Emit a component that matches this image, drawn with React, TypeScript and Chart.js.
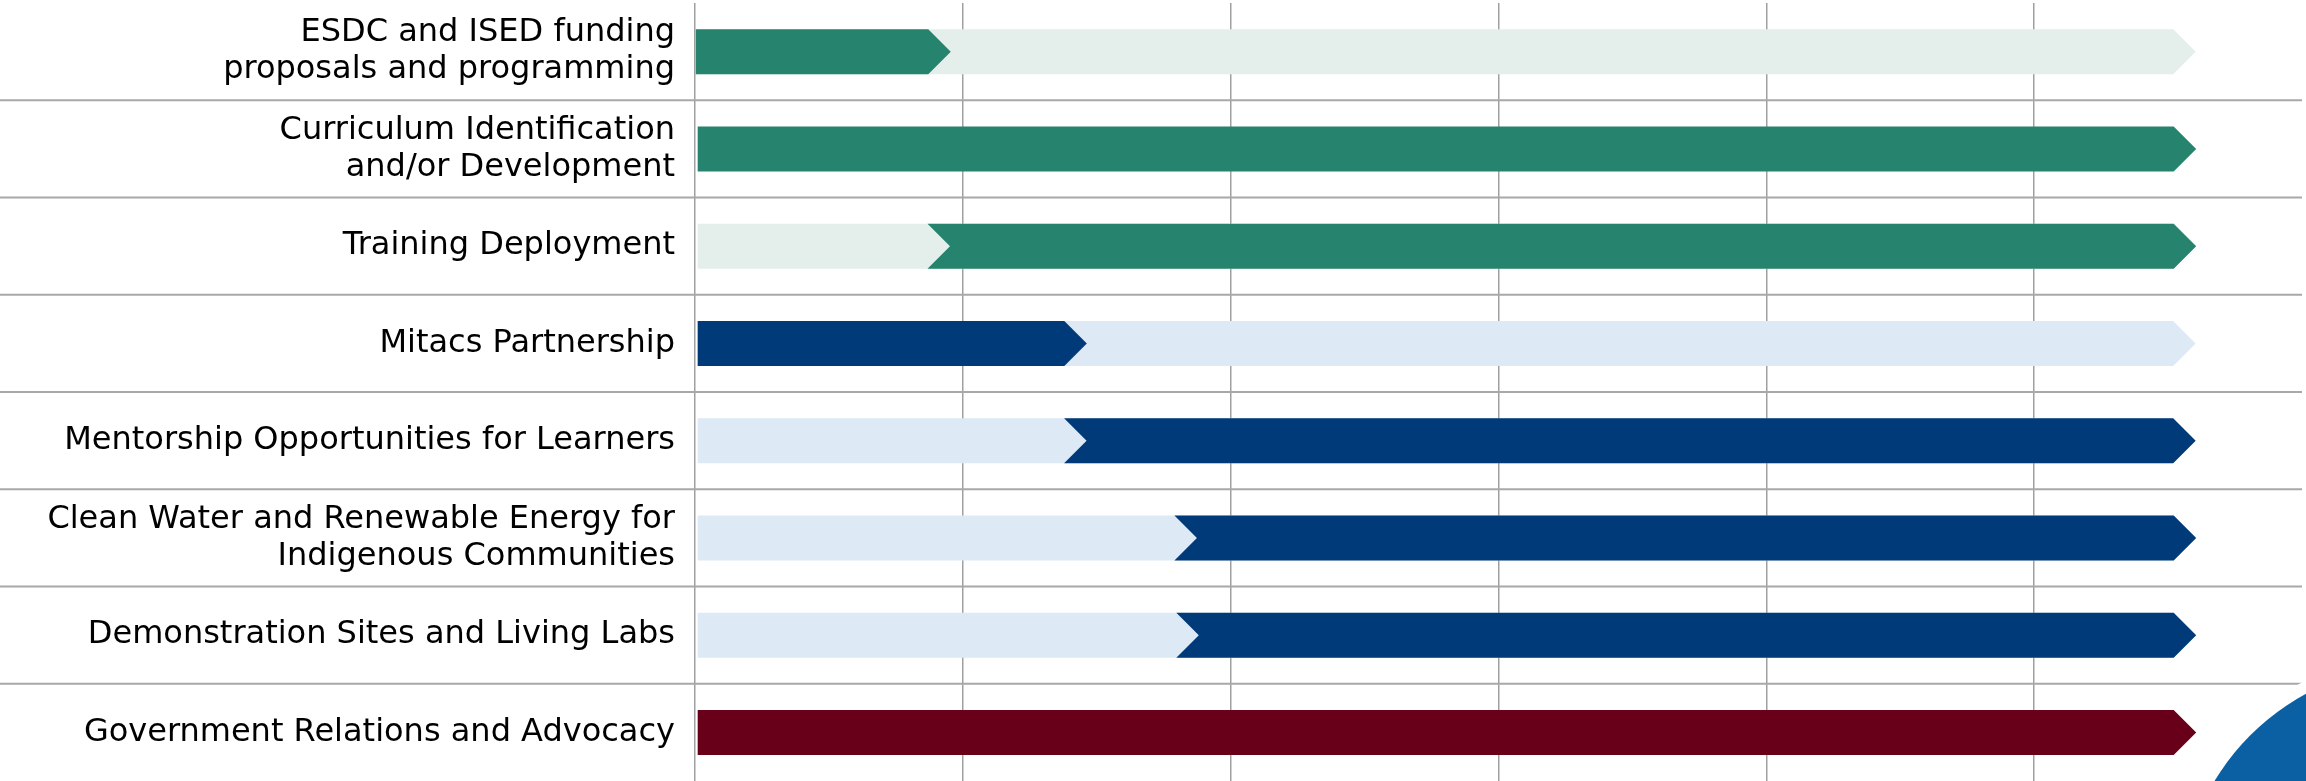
import React, { useEffect, useRef } from "react";
import { Chart, registerables } from "chart.js";

Chart.register(...registerables);

const categories: (string | string[])[] = [
  ["ESDC and ISED funding", "proposals and programming"],
  ["Curriculum Identification", "and/or Development"],
  "Training Deployment",
  "Mitacs Partnership",
  "Mentorship Opportunities for Learners",
  ["Clean Water and Renewable Energy for", "Indigenous Communities"],
  "Demonstration Sites and Living Labs",
  "Government Relations and Advocacy",
];

// light (background / remaining) segments
const lightStart: (number | null)[] = [0, null, 0.01, 0.01, 0.01, 0.01, 0.01, null];
const lightEnd: (number | null)[] = [5.603, null, 5.603, 5.603, 5.603, 5.603, 5.603, null];

// dark (active) segments
const darkStart: number[] = [0, 0.01, 0.952, 0.01, 1.462, 1.874, 1.881, 0.01];
const darkEnd: number[] = [0.955, 5.605, 5.605, 1.463, 5.603, 5.605, 5.605, 5.605];

const darkColors = ["#25836E", "#25836E", "#25836E", "#003A78", "#003A78", "#003A78", "#003A78", "#680019"];
const lightColors = ["#E4EFEB", "#E4EFEB", "#E4EFEB", "#DDE9F5", "#DDE9F5", "#DDE9F5", "#DDE9F5", "#F0DDE0"];

const xMin = 0;
const xMax = 6;

const chevronPlugin = {
  id: "chevronBars",
  beforeDatasetDraw(chart: any, args: any) {
    const ctx = chart.ctx;
    const meta = args.meta;
    const ds = chart.data.datasets[args.index];
    ctx.save();
    meta.data.forEach((el: any, i: number) => {
      const v = ds.data[i];
      if (v == null) return;
      const p = el.getProps(["x", "y", "base", "height"], true);
      const left = Math.min(p.x, p.base);
      const right = Math.max(p.x, p.base);
      const top = p.y - p.height / 2;
      const bottom = p.y + p.height / 2;
      const d = p.height / 2;
      const notched = v[0] > 0.05;
      ctx.beginPath();
      if (notched) {
        ctx.moveTo(left - d, top);
        ctx.lineTo(right - d, top);
        ctx.lineTo(right, p.y);
        ctx.lineTo(right - d, bottom);
        ctx.lineTo(left - d, bottom);
        ctx.lineTo(left, p.y);
      } else {
        ctx.moveTo(left, top);
        ctx.lineTo(right - d, top);
        ctx.lineTo(right, p.y);
        ctx.lineTo(right - d, bottom);
        ctx.lineTo(left, bottom);
      }
      ctx.closePath();
      ctx.fillStyle = el.options.backgroundColor;
      ctx.fill();
    });
    ctx.restore();
    return false;
  },
};

const separatorPlugin = {
  id: "rowSeparators",
  beforeDatasetsDraw(chart: any) {
    const ctx = chart.ctx;
    const ys = chart.scales.y;
    const right = chart.chartArea.right;
    ctx.save();
    ctx.strokeStyle = "#A8A8A8";
    ctx.lineWidth = 2;
    for (let i = 0; i < categories.length - 1; i++) {
      const y = (ys.getPixelForValue(i) + ys.getPixelForValue(i + 1)) / 2;
      ctx.beginPath();
      ctx.moveTo(0, y);
      ctx.lineTo(right, y);
      ctx.stroke();
    }
    ctx.restore();
  },
};

const decorPlugin = {
  id: "cornerDecor",
  afterDraw(chart: any) {
    const ctx = chart.ctx;
    ctx.save();
    ctx.beginPath();
    ctx.arc(2420, 905, 252, 0, Math.PI * 2);
    ctx.fillStyle = "#FFFFFF";
    ctx.fill();
    ctx.beginPath();
    ctx.arc(2420, 905, 240, 0, Math.PI * 2);
    ctx.fillStyle = "#0B60A3";
    ctx.fill();
    ctx.restore();
  },
};

export default function App() {
  const ref = useRef<HTMLCanvasElement | null>(null);

  useEffect(() => {
    if (!ref.current) return;
    const chart = new Chart(ref.current, {
      type: "bar",
      data: {
        labels: categories,
        datasets: [
          {
            label: "Active",
            data: categories.map((_, i) => [darkStart[i], darkEnd[i]]) as any,
            backgroundColor: darkColors,
            grouped: false,
            order: 1,
            barThickness: 45,
          } as any,
          {
            label: "Planned",
            data: categories.map((_, i) =>
              lightStart[i] == null ? null : [lightStart[i], lightEnd[i]]
            ) as any,
            backgroundColor: lightColors,
            grouped: false,
            order: 2,
            barThickness: 45,
          } as any,
        ],
      },
      options: {
        indexAxis: "y",
        animation: false,
        responsive: true,
        maintainAspectRatio: false,
        layout: { padding: { top: 3, right: 4, bottom: 0, left: 0 } },
        plugins: {
          legend: { display: false },
          tooltip: { enabled: false },
          title: { display: false },
        },
        scales: {
          x: {
            type: "linear",
            min: xMin,
            max: xMax,
            ticks: { display: false, stepSize: 1 },
            border: { display: false },
            afterFit: (scale: any) => {
              scale.height = 0;
              scale.paddingLeft = 0;
              scale.paddingRight = 0;
            },
            grid: {
              drawTicks: false,
              lineWidth: 1.5,
              color: (c: any) => (c.tick && c.tick.value === xMax ? "rgba(0,0,0,0)" : "#A0A0A0"),
            },
          },
          y: {
            type: "category",
            border: { display: false },
            grid: { display: false, drawTicks: false },
            afterFit: (scale: any) => {
              scale.width = 695;
              scale.paddingTop = 0;
              scale.paddingBottom = 0;
            },
            ticks: {
              color: "#000000",
              padding: 20,
              autoSkip: false,
              font: { family: "'DejaVu Sans', Verdana, sans-serif", size: 32, lineHeight: 1.16 },
            },
          },
        },
      },
      plugins: [separatorPlugin, chevronPlugin, decorPlugin],
    });
    return () => chart.destroy();
  }, []);

  return (
    <div style={{ position: "absolute", left: 0, top: 0, width: 2306, height: 781, background: "#FFFFFF" }}>
      <canvas ref={ref} />
    </div>
  );
}
